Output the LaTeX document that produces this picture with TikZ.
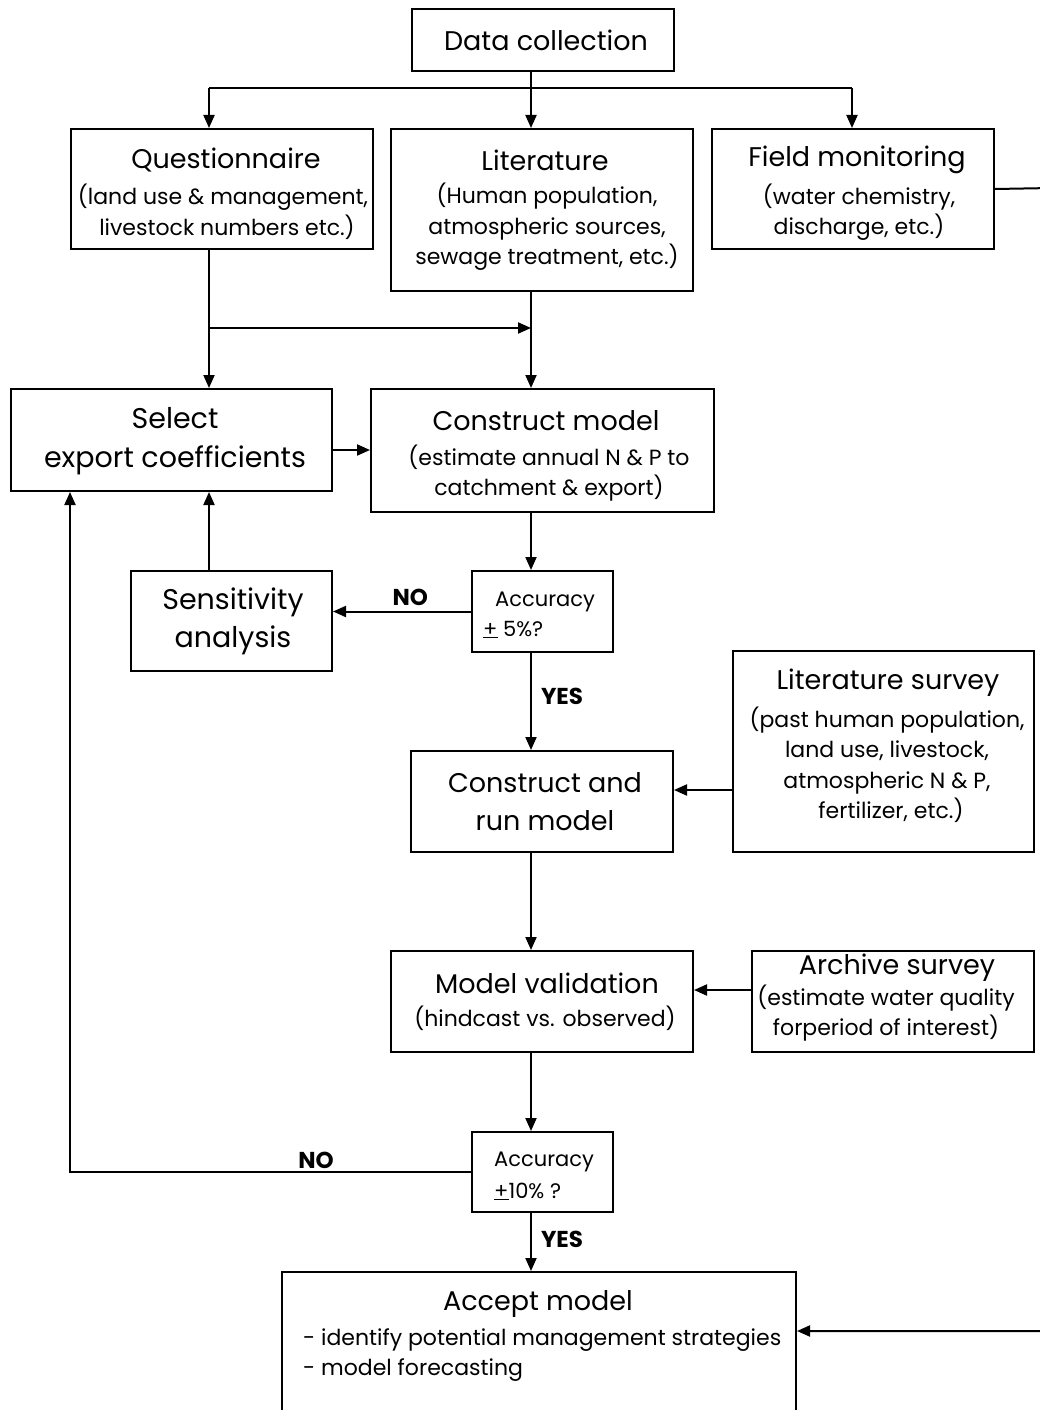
\documentclass[tikz,border=0pt]{standalone}
\usepackage{fontspec}
\setmainfont{Poppins}
\usetikzlibrary{arrows.meta}
\tikzset{
  box/.style={draw, line width=2pt, inner sep=0pt, anchor=north west},
  arr/.style={line width=2pt, -{Triangle[length=13pt,width=11pt]}},
  ln/.style={line width=2pt},
  ttl/.style={font=\fontsize{27}{32}\selectfont, inner sep=0pt},
  sub/.style={font=\fontsize{22}{30.5}\selectfont, inner sep=0pt, align=center},
  lbl/.style={font=\fontsize{23}{26}\selectfont\bfseries, inner sep=0pt},
}
\begin{document}
\begin{tikzpicture}[x=1pt,y=-1pt]
\useasboundingbox (0,0) rectangle (1040,1410);
\fill[white] (0,0) rectangle (1040,1410);

% boxes (top-left corner, width, height)
\node[box, minimum width=262, minimum height=62] (dc) at (411,8) {};
\node[box, minimum width=302, minimum height=120] (quest) at (70,128) {};
\node[box, minimum width=302, minimum height=162] (lit) at (390,128) {};
\node[box, minimum width=282, minimum height=120] (field) at (711,128) {};
\node[box, minimum width=321, minimum height=102] (sel) at (10,388) {};
\node[box, minimum width=343, minimum height=123] (cm) at (370,388) {};
\node[box, minimum width=141, minimum height=81] (acc1) at (471,570) {};
\node[box, minimum width=201, minimum height=100] (sens) at (130,570) {};
\node[box, minimum width=262, minimum height=101] (car) at (410,750) {};
\node[box, minimum width=301, minimum height=201] (ls) at (732,650) {};
\node[box, minimum width=302, minimum height=101] (mv) at (390,950) {};
\node[box, minimum width=282, minimum height=101] (arch) at (751,950) {};
\node[box, minimum width=141, minimum height=80] (acc2) at (471,1131) {};
\node[box, minimum width=514, minimum height=180] (acc) at (281,1271) {};

% texts
\node[ttl] (t-dc) at (546,40) {Data collection};
\node[ttl] (t-q) at (226,160) {Questionnaire};
\node[sub] (s-q) at (223,212) {(land use \& management,\\ \hspace*{8pt}livestock numbers etc.)};
\node[ttl] (t-lit) at (545,160) {Literature};
\node[sub] (s-lit) at (547,227) {(Human population,\\ atmospheric sources,\\ sewage treatment, etc.)};
\node[ttl] (t-f) at (857,160) {Field monitoring};
\node[sub] (s-f) at (859,212) {(water chemistry,\\ discharge, etc.)};
\node[ttl, align=center, font=\fontsize{28.5}{39}\selectfont] (t-sel) at (175,441) {Select\\ export coefficients};
\node[ttl] (t-cm) at (546,421) {Construct model};
\node[sub] (s-cm) at (549,473) {(estimate annual N \& P to\\ catchment \& export)};
\node[sub, align=left, font=\fontsize{21}{30}\selectfont] (t-a1) at (539,615) {\hspace*{12pt}Accuracy\\ \underline{+} 5\%?};
\node[ttl, align=center, font=\fontsize{28.5}{38}\selectfont] (t-sens) at (233,621) {Sensitivity\\ analysis};
\node[ttl, align=center] (t-car) at (545,802) [font=\fontsize{27}{38}\selectfont] {Construct and\\ run model};
\node[ttl] (t-ls) at (888,683) {Literature survey};
\node[sub] (s-ls) at (887,765) {(past human population,\\ land use, livestock,\\ atmospheric N \& P,\\ \hspace*{8pt}fertilizer, etc.)};
\node[ttl] (t-mv) at (547,983) {Model validation};
\node[sub] (s-mv) at (545,1018) {(hindcast vs. observed)};
\node[ttl] (t-ar) at (897,968) {Archive survey};
\node[sub] (s-ar) at (886,1013) {(estimate water quality\\ forperiod of interest)};
\node[sub, align=left, font=\fontsize{21}{32}\selectfont, anchor=west] (t-a2) at (494,1176) {Accuracy\\ \underline{+}10\% ?};
\node[ttl] (t-acc) at (538,1304) {Accept model};
\node[sub, align=left, anchor=west] (s-acc) at (303,1355) {- identify potential management strategies\\ - model forecasting};

% connector guide points
\coordinate (c531) at (531,0);
\coordinate (bl) at (209,88);
\coordinate (br) at (852,88);
\coordinate (jn) at (209,328);
\coordinate (x70) at (70,0);
\coordinate (ya) at (0,450);
\coordinate (yls) at (0,790);
\coordinate (yar) at (0,990);
\coordinate (rtop) at (1052,188);
\coordinate (rbot) at (1052,1331);

% connectors
\draw[ln] (bl) -- (br);
\draw[arr] (bl) -- (quest.north -| bl);
\draw[arr] (br) -- (field.north -| br);
\draw[arr] (dc.south -| c531) -- (lit.north -| c531);
\draw[arr] (quest.south -| bl) -- (sel.north -| bl);
\draw[arr] (jn) -- (jn -| c531);
\draw[arr] (lit.south -| c531) -- (cm.north -| c531);
\draw[arr] (sel.east |- ya) -- (cm.west |- ya);
\draw[arr] (cm.south -| c531) -- (acc1.north -| c531);
\draw[arr] (acc1.west) -- (acc1.west -| sens.east) node[lbl, pos=0.44, above=5pt] (no1) {NO};
\draw[arr] (sens.north -| bl) -- (sel.south -| bl);
\draw[arr] (acc1.south -| c531) -- (car.north -| c531) node[lbl, pos=0.45, right=9pt] (yes1) {YES};
\draw[arr] (ls.west |- yls) -- (car.east |- yls);
\draw[arr] (car.south -| c531) -- (mv.north -| c531);
\draw[arr] (arch.west |- yar) -- (mv.east |- yar);
\draw[arr] (mv.south -| c531) -- (acc2.north -| c531);
\draw[arr] (acc2.west) -| (sel.south -| x70);
\node[lbl] (no2) at (316,1160) {NO};
\draw[arr] (acc2.south -| c531) -- (acc.north -| c531) node[lbl, pos=0.45, right=9pt] (yes2) {YES};
\draw[arr] (field.east) -- (rtop) -- (rbot) -- (acc.east |- rbot);
\end{tikzpicture}
\end{document}
